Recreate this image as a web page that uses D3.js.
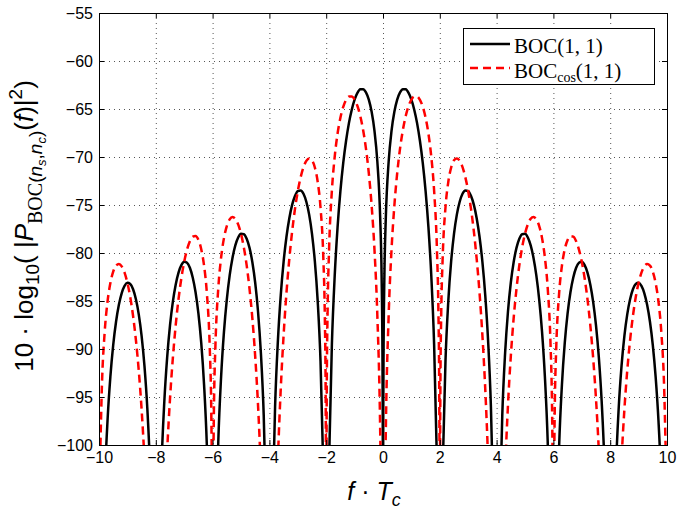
<!DOCTYPE html>
<html><head><meta charset="utf-8">
<script src="https://cdn.jsdelivr.net/npm/d3@7"></script>
<style>body{margin:0;background:#fff}</style>
</head><body>
<svg id="chart" width="680" height="514"></svg>
<script>
// ---- data (null = spectral null, below the plot) ----
const freqBOC = [
 -10,-9.9,-9.8,-9.7,-9.6,-9.5,-9.4,-9.3,-9.2,-9.1,
 -9,-8.9,-8.8,-8.7,-8.6,-8.5,-8.4,-8.3,-8.2,-8.1,
 -8,-7.9,-7.8,-7.7,-7.6,-7.5,-7.4,-7.3,-7.2,-7.1,
 -7,-6.9,-6.8,-6.7,-6.6,-6.5,-6.4,-6.3,-6.2,-6.1,
 -6,-5.9,-5.8,-5.7,-5.6,-5.5,-5.4,-5.3,-5.2,-5.1,
 -5,-4.9,-4.8,-4.7,-4.6,-4.5,-4.4,-4.3,-4.2,-4.1,
 -4,-3.9,-3.8,-3.7,-3.6,-3.5,-3.4,-3.3,-3.2,-3.1,
 -3,-2.9,-2.8,-2.7,-2.6,-2.5,-2.4,-2.3,-2.2,-2.1,
 -2,-1.9,-1.8,-1.7,-1.6,-1.5,-1.4,-1.3,-1.2,-1.1,
 -1,-0.9,-0.8,-0.7,-0.6,-0.5,-0.4,-0.3,-0.2,-0.1,
 -0.05,-0.02,-0.01,-0.005,0,0.005,0.01,0.02,0.05,
 0.1,0.2,0.3,0.4,0.5,0.6,0.7,0.8,0.9,1,
 1.1,1.2,1.3,1.4,1.5,1.6,1.7,1.8,1.9,2,
 2.1,2.2,2.3,2.4,2.5,2.6,2.7,2.8,2.9,3,
 3.1,3.2,3.3,3.4,3.5,3.6,3.7,3.8,3.9,4,
 4.1,4.2,4.3,4.4,4.5,4.6,4.7,4.8,4.9,5,
 5.1,5.2,5.3,5.4,5.5,5.6,5.7,5.8,5.9,6,
 6.1,6.2,6.3,6.4,6.5,6.6,6.7,6.8,6.9,7,
 7.1,7.2,7.3,7.4,7.5,7.6,7.7,7.8,7.9,8,
 8.1,8.2,8.3,8.4,8.5,8.6,8.7,8.8,8.9,9,
 9.1,9.2,9.3,9.4,9.5,9.6,9.7,9.8,9.9,10
];
const psdBOC = [
 null,-116.16,-104.24,-97.48,-92.90,-89.59,-87.16,-85.40,-84.17,-83.42,
 -83.11,-83.23,-83.78,-84.82,-86.39,-88.63,-91.74,-96.12,-102.70,-114.42,
 null,-114.20,-102.26,-95.47,-90.87,-87.54,-85.09,-83.30,-82.04,-81.27,
 -80.92,-81.02,-81.54,-82.55,-84.09,-86.30,-89.37,-93.73,-100.27,-111.96,
 null,-111.67,-99.69,-92.86,-88.21,-84.85,-82.35,-80.52,-79.21,-78.39,
 -78.00,-78.04,-78.52,-79.47,-80.96,-83.10,-86.12,-90.41,-96.89,-108.51,
 null,-108.07,-96.02,-89.10,-84.38,-80.92,-78.33,-76.40,-74.99,-74.07,
 -73.56,-73.49,-73.83,-74.66,-76.00,-78.00,-80.85,-84.98,-91.27,-102.69,
 null,-101.83,-89.53,-82.35,-77.33,-73.56,-70.62,-68.31,-66.47,-65.07,
 -64.02,-63.32,-62.95,-62.93,-63.26,-64.02,-65.29,-67.28,-70.44,-76.25,
 -82.21,-90.16,-96.10,-102.2,null,-102.2,-96.10,-90.16,-82.21,
 -76.25,-70.44,-67.28,-65.29,-64.02,-63.26,-62.93,-62.95,-63.32,-64.02,
 -65.07,-66.47,-68.31,-70.62,-73.56,-77.33,-82.35,-89.53,-101.83,null,
 -102.69,-91.27,-84.98,-80.85,-78.00,-76.00,-74.66,-73.83,-73.49,-73.56,
 -74.07,-74.99,-76.40,-78.33,-80.92,-84.38,-89.10,-96.02,-108.07,null,
 -108.51,-96.89,-90.41,-86.12,-83.10,-80.96,-79.47,-78.52,-78.04,-78.00,
 -78.39,-79.21,-80.52,-82.35,-84.85,-88.21,-92.86,-99.69,-111.67,null,
 -111.96,-100.27,-93.73,-89.37,-86.30,-84.09,-82.55,-81.54,-81.02,-80.92,
 -81.27,-82.04,-83.30,-85.09,-87.54,-90.87,-95.47,-102.26,-114.20,null,
 -114.42,-102.70,-96.12,-91.74,-88.63,-86.39,-84.82,-83.78,-83.23,-83.11,
 -83.42,-84.17,-85.40,-87.16,-89.59,-92.90,-97.48,-104.24,-116.16,null
];
const freqCos = [
 -10,-9.95,-9.9,-9.8,-9.7,-9.6,-9.5,-9.4,-9.3,-9.2,-9.1,
 -9,-8.9,-8.8,-8.7,-8.6,-8.5,-8.4,-8.3,-8.2,-8.1,
 -8,-7.9,-7.8,-7.7,-7.6,-7.5,-7.4,-7.3,-7.2,-7.1,
 -7,-6.9,-6.8,-6.7,-6.6,-6.5,-6.4,-6.3,-6.2,-6.1,-6.05,-6.02,
 -6,-5.98,-5.95,-5.9,-5.8,-5.7,-5.6,-5.5,-5.4,-5.3,-5.2,-5.1,
 -5,-4.9,-4.8,-4.7,-4.6,-4.5,-4.4,-4.3,-4.2,-4.1,
 -4,-3.9,-3.8,-3.7,-3.6,-3.5,-3.4,-3.3,-3.2,-3.1,
 -3,-2.9,-2.8,-2.7,-2.6,-2.5,-2.4,-2.3,-2.2,-2.1,-2.05,-2.02,-2.01,
 -2,-1.99,-1.98,-1.95,-1.9,-1.8,-1.7,-1.6,-1.5,-1.4,-1.3,-1.2,-1.1,
 -1,-0.9,-0.8,-0.7,-0.6,-0.5,-0.4,-0.3,-0.2,-0.1,-0.05,
 0,0.05,0.1,0.2,0.3,0.4,0.5,0.6,0.7,0.8,0.9,
 1,1.1,1.2,1.3,1.4,1.5,1.6,1.7,1.8,1.9,1.95,1.98,1.99,
 2,2.01,2.02,2.05,2.1,2.2,2.3,2.4,2.5,2.6,2.7,2.8,2.9,
 3,3.1,3.2,3.3,3.4,3.5,3.6,3.7,3.8,3.9,
 4,4.1,4.2,4.3,4.4,4.5,4.6,4.7,4.8,4.9,
 5,5.1,5.2,5.3,5.4,5.5,5.6,5.7,5.8,5.9,5.95,5.98,
 6,6.02,6.05,6.1,6.2,6.3,6.4,6.5,6.6,6.7,6.8,6.9,
 7,7.1,7.2,7.3,7.4,7.5,7.6,7.7,7.8,7.9,
 8,8.1,8.2,8.3,8.4,8.5,8.6,8.7,8.8,8.9,
 9,9.1,9.2,9.3,9.4,9.5,9.6,9.7,9.8,9.9,9.95,10
];
const psdCos = [
 null,-100.08,-94.08,-88.24,-85.08,-83.13,-81.94,-81.31,-81.15,-81.39,-82.05,
 -83.11,-84.59,-86.56,-89.08,-92.25,-96.29,-101.50,-108.51,-118.71,-136.50,
 null,-136.28,-118.27,-107.86,-100.63,-95.20,-90.95,-87.55,-84.81,-82.63,
 -80.92,-79.64,-78.77,-78.30,-78.24,-78.64,-79.61,-81.33,-84.26,-89.88,-95.76,-103.65,
 null,-103.6,-95.61,-89.59,-83.68,-80.46,-78.45,-77.19,-76.50,-76.26,-76.44,-77.02,
 -78.00,-79.41,-81.29,-83.73,-86.82,-90.76,-95.88,-102.80,-112.90,-130.58,
 null,-130.15,-112.03,-101.49,-94.14,-88.58,-84.19,-80.66,-77.77,-75.43,
 -73.56,-72.12,-71.06,-70.40,-70.15,-70.34,-71.09,-72.58,-75.26,-80.61,-86.36,-94.17,-100.14,
 null,-100.06,-93.99,-85.92,-79.74,-73.52,-69.96,-67.57,-65.91,-64.77,-64.05,-63.70,-63.70,
 -64.02,-64.69,-65.73,-67.19,-69.12,-71.68,-75.06,-79.67,-86.45,-98.33,-110.33,
 null,-110.33,-98.33,-86.45,-79.67,-75.06,-71.68,-69.12,-67.19,-65.73,-64.69,
 -64.02,-63.70,-63.70,-64.05,-64.77,-65.91,-67.57,-69.96,-73.52,-79.74,-85.92,-93.99,-100.06,
 null,-100.14,-94.17,-86.36,-80.61,-75.26,-72.58,-71.09,-70.34,-70.15,-70.40,-71.06,-72.12,
 -73.56,-75.43,-77.77,-80.66,-84.19,-88.58,-94.14,-101.49,-112.03,-130.15,
 null,-130.58,-112.90,-102.80,-95.88,-90.76,-86.82,-83.73,-81.29,-79.41,
 -78.00,-77.02,-76.44,-76.26,-76.50,-77.19,-78.45,-80.46,-83.68,-89.59,-95.61,-103.6,
 null,-103.65,-95.76,-89.88,-84.26,-81.33,-79.61,-78.64,-78.24,-78.30,-78.77,-79.64,
 -80.92,-82.63,-84.81,-87.55,-90.95,-95.20,-100.63,-107.86,-118.27,-136.28,
 null,-136.50,-118.71,-108.51,-101.50,-96.29,-92.25,-89.08,-86.56,-84.59,
 -83.11,-82.05,-81.39,-81.15,-81.31,-81.94,-83.13,-85.08,-88.24,-94.08,-100.08,null
];
const xTicks = [-10,-8,-6,-4,-2,0,2,4,6,8,10];
const yTicks = [-100,-95,-90,-85,-80,-75,-70,-65,-60,-55];

// ---- layout ----
const X0 = 99, X1 = 667, Y0 = 13, Y1 = 445;
const svg = d3.select("#chart");
const x = d3.scaleLinear().domain([-10, 10]).range([X0, X1]);
const y = d3.scaleLinear().domain([-100, -55]).range([Y1, Y0]);
const SANS = "'Liberation Sans', Arial, Helvetica, sans-serif";
const SERIF = "'Liberation Serif', 'Times New Roman', serif";

// grid
const grid = svg.append("g").attr("stroke", "#555").attr("stroke-width", 1)
  .attr("stroke-dasharray", "1,4");
grid.selectAll("line.gx").data(xTicks.slice(1, -1)).join("line").attr("class", "gx")
  .attr("x1", d => x(d) + 0.5).attr("x2", d => x(d) + 0.5).attr("y1", Y0).attr("y2", Y1);
grid.selectAll("line.gy").data(yTicks.slice(1, -1)).join("line").attr("class", "gy")
  .attr("y1", d => y(d) + 0.5).attr("y2", d => y(d) + 0.5).attr("x1", X0).attr("x2", X1);

// clip
svg.append("defs").append("clipPath").attr("id", "clip")
  .append("rect").attr("x", X0).attr("y", Y0).attr("width", X1 - X0).attr("height", Y1 - Y0);

const lineGen = () => d3.line()
  .defined(d => d[1] !== null)
  .x(d => x(d[0])).y(d => y(d[1]))
  .curve(d3.curveMonotoneX);

const boc = freqBOC.map((f, i) => [f, psdBOC[i]]);
const cos = freqCos.map((f, i) => [f, psdCos[i]]);

const plot = svg.append("g").attr("clip-path", "url(#clip)");
plot.append("path").datum(boc).attr("d", lineGen()).attr("fill", "none")
  .attr("stroke", "#000").attr("stroke-width", 2.5);
plot.append("path").datum(cos).attr("d", lineGen()).attr("fill", "none")
  .attr("stroke", "#ff0000").attr("stroke-width", 2.5).attr("stroke-dasharray", "8,5");

// axes
const fmt = d3.format("d");
const ax = svg.append("g").attr("transform", `translate(0,${Y1})`)
  .call(d3.axisBottom(x).tickValues(xTicks).tickSize(-5).tickPadding(7).tickFormat(d => fmt(d)));
const ay = svg.append("g").attr("transform", `translate(${X0},0)`)
  .call(d3.axisLeft(y).tickValues(yTicks).tickSize(-5).tickPadding(6).tickFormat(d => fmt(d)));
const at = svg.append("g").attr("transform", `translate(0,${Y0})`)
  .call(d3.axisTop(x).tickValues(xTicks).tickSize(-5).tickFormat(""));
const ar = svg.append("g").attr("transform", `translate(${X1},0)`)
  .call(d3.axisRight(y).tickValues(yTicks).tickSize(-5).tickFormat(""));
[ax, ay, at, ar].forEach(g => {
  g.select(".domain").remove();
  g.selectAll("text").attr("font-family", SANS).attr("font-size", 16).attr("fill", "#000");
  g.selectAll(".tick line").attr("stroke", "#000");
});
svg.append("rect").attr("x", X0 + 0.5).attr("y", Y0 + 0.5)
  .attr("width", X1 - X0).attr("height", Y1 - Y0)
  .attr("fill", "none").attr("stroke", "#000").attr("stroke-width", 1);

// legend
const lg = svg.append("g");
lg.append("rect").attr("x", 463.5).attr("y", 28.5).attr("width", 191).attr("height", 56)
  .attr("fill", "#fff").attr("stroke", "#000").attr("stroke-width", 1);
lg.append("line").attr("x1", 470).attr("x2", 510).attr("y1", 44).attr("y2", 44)
  .attr("stroke", "#000").attr("stroke-width", 2.5);
lg.append("line").attr("x1", 470).attr("x2", 510).attr("y1", 68).attr("y2", 68)
  .attr("stroke", "#ff0000").attr("stroke-width", 2.5).attr("stroke-dasharray", "8,5");
lg.append("text").attr("x", 514).attr("y", 53).attr("font-family", SERIF).attr("font-size", 21)
  .text("BOC(1, 1)");
const t2 = lg.append("text").attr("x", 514).attr("y", 78).attr("font-family", SERIF).attr("font-size", 21);
t2.append("tspan").text("BOC");
t2.append("tspan").attr("font-size", 14).attr("dy", 4).text("cos");
t2.append("tspan").attr("dy", -4).text("(1, 1)");

// x label
const xl = svg.append("text").attr("x", 374).attr("y", 500).attr("text-anchor", "middle")
  .attr("font-family", SANS).attr("font-size", 25);
xl.append("tspan").attr("font-style", "italic").text("f");
xl.append("tspan").text(" \u00B7 ");
xl.append("tspan").attr("font-style", "italic").text("T");
xl.append("tspan").attr("font-style", "italic").attr("font-size", 18).attr("dy", 6).text("c");

// y label
const yl = svg.append("text").attr("transform", "translate(33,226) rotate(-90)")
  .attr("text-anchor", "middle").attr("font-family", SANS).attr("font-size", 26);
yl.append("tspan").text("10 \u00B7 log");
yl.append("tspan").attr("font-size", 19).attr("dy", 6).text("10");
yl.append("tspan").attr("dy", -6).text("( |");
yl.append("tspan").attr("font-style", "italic").text("P");
yl.append("tspan").attr("font-size", 20).attr("dy", 9).attr("font-family", SERIF).text("BOC");
yl.append("tspan").attr("font-size", 19).text("(");
yl.append("tspan").attr("font-size", 19).attr("font-style", "italic").text("n");
yl.append("tspan").attr("font-size", 13).attr("font-style", "italic").attr("dy", 4).text("s");
yl.append("tspan").attr("font-size", 19).attr("dy", -4).text(",");
yl.append("tspan").attr("font-size", 19).attr("font-style", "italic").text("n");
yl.append("tspan").attr("font-size", 13).attr("font-style", "italic").attr("dy", 4).text("c");
yl.append("tspan").attr("font-size", 19).attr("dy", -4).text(")");
yl.append("tspan").attr("dy", -9).text("(");
yl.append("tspan").attr("font-style", "italic").text("f");
yl.append("tspan").text(")|");
yl.append("tspan").attr("font-size", 19).attr("dy", -11).text("2");
yl.append("tspan").attr("dy", 11).text(")");
</script>
</body></html>
